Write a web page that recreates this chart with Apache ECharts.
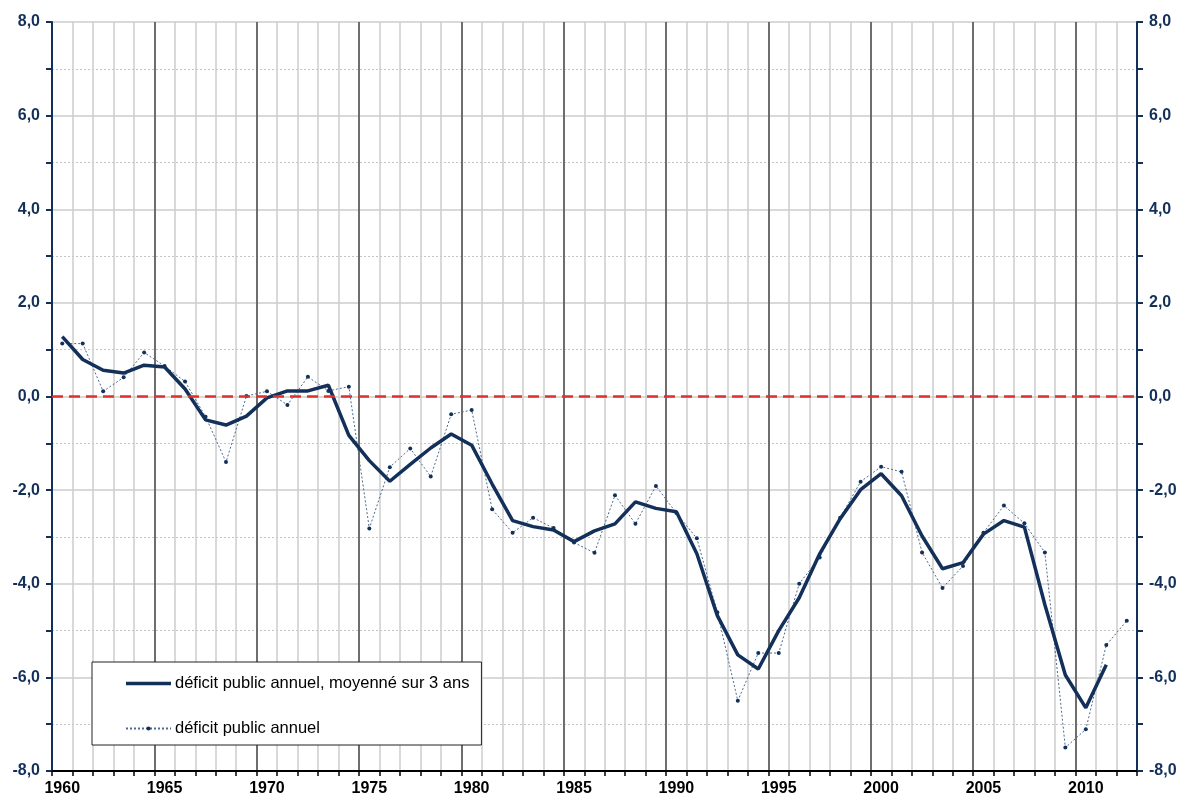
<!DOCTYPE html>
<html>
<head>
<meta charset="utf-8">
<script src="https://cdn.jsdelivr.net/npm/echarts@6/dist/echarts.min.js"></script>
<style>
html,body{margin:0;padding:0;background:#fff;}
#chart{width:1190px;height:803px;}
</style>
</head>
<body>
<div id="chart"></div>
<script>
// Years (categories)
var years = [];
for (var y = 1960; y <= 2012; y++) years.push(String(y));

// Annual public deficit (% of GDP), 1960..2012
var annualDeficit = [
  1.13, 1.13, 0.11, 0.41, 0.94, 0.65, 0.32, -0.43, -1.40, 0.01,
  0.11, -0.18, 0.42, 0.12, 0.21, -2.82, -1.51, -1.11, -1.71, -0.38,
  -0.29, -2.41, -2.91, -2.59, -2.81, -3.12, -3.34, -2.11, -2.72, -1.91,
  -2.49, -3.03, -4.61, -6.50, -5.48, -5.48, -4.00, -3.44, -2.59, -1.82,
  -1.50, -1.61, -3.33, -4.09, -3.62, -2.91, -2.33, -2.71, -3.33, -7.50,
  -7.11, -5.31, -4.79
];

// 3-year averaged deficit, 1960..2011 (none for 2012)
var averagedDeficit = [
  1.28, 0.79, 0.56, 0.50, 0.67, 0.63, 0.16, -0.50, -0.61, -0.42,
  -0.03, 0.12, 0.12, 0.24, -0.83, -1.37, -1.81, -1.45, -1.10, -0.80,
  -1.04, -1.87, -2.65, -2.78, -2.85, -3.10, -2.87, -2.72, -2.25, -2.39,
  -2.46, -3.36, -4.68, -5.52, -5.82, -5.00, -4.30, -3.36, -2.61, -1.99,
  -1.65, -2.12, -2.98, -3.68, -3.55, -2.94, -2.65, -2.79, -4.45, -5.95,
  -6.65, -5.73, null
];

var seriesNames = ['déficit public annuel, moyenné sur 3 ans', 'déficit public annuel'];

var navy = '#13305a';
var fontFam = '"Liberation Sans", Arial, sans-serif';

function fmt(v){ return v.toFixed(1).replace('.', ','); }

var yAxisCommon = {
  type: 'value', min: -8, max: 8, interval: 2,
  axisLine: { show: true, lineStyle: { color: navy, width: 2 } },
  axisTick: { show: true, length: 6, lineStyle: { color: navy, width: 2 } },
  minorTick: { show: true, splitNumber: 2, length: 6, lineStyle: { color: navy, width: 2 } },
  axisLabel: { formatter: fmt, color: navy, fontWeight: 'bold', fontSize: 16, fontFamily: fontFam, margin: 12 }
};

var chart = echarts.init(document.getElementById('chart'));
chart.setOption({
  animation: false,
  backgroundColor: '#fff',
  grid: { left: 52, right: 53, top: 22, bottom: 32, containLabel: false },
  legend: {
    data: [
      { name: seriesNames[0], icon: 'path://M0,0L45,0L45,3.5L0,3.5Z' },
      { name: seriesNames[1] }
    ],
    orient: 'vertical',
    left: 92, top: 662,
    backgroundColor: '#fff',
    borderColor: '#222', borderWidth: 1,
    padding: [13, 12, 8, 33],
    itemWidth: 45, itemHeight: 5, itemGap: 28,
    textStyle: { fontSize: 16.5, color: '#000', fontFamily: fontFam, padding: [0, 0, 0, -1] }
  },
  xAxis: [
    {
      type: 'category', data: years, boundaryGap: true,
      axisLine: { show: true, onZero: false, lineStyle: { color: '#000', width: 2 } },
      axisTick: { show: true, interval: 0, length: 5, lineStyle: { color: '#000', width: 1.5 } },
      axisLabel: { interval: 4, color: '#000', fontWeight: 'bold', fontSize: 16, fontFamily: fontFam, margin: 10 },
      splitLine: { show: true, interval: 0, lineStyle: { color: '#cccccc', width: 1.5 } }
    },
    {
      type: 'category', data: years, boundaryGap: true, position: 'bottom',
      axisLine: { show: false }, axisTick: { show: false }, axisLabel: { show: false },
      splitLine: { show: true, interval: 4, lineStyle: { color: '#4a4a4a', width: 1.5 } }
    }
  ],
  yAxis: [
    Object.assign({}, yAxisCommon, {
      position: 'left',
      splitLine: { show: true, lineStyle: { color: '#cccccc', width: 1.5 } },
      minorSplitLine: { show: true, lineStyle: { color: '#c4c4c4', width: 1, type: [2, 2] } }
    }),
    Object.assign({}, yAxisCommon, {
      position: 'right',
      splitLine: { show: false }
    })
  ],
  series: [
    {
      name: seriesNames[1], type: 'line', data: annualDeficit,
      xAxisIndex: 0, yAxisIndex: 0,
      symbol: 'circle', symbolSize: 4, showSymbol: true,
      itemStyle: { color: navy },
      lineStyle: { color: '#4b6a92', width: 1, type: [2, 2] },
      z: 3,
      markLine: {
        silent: true, symbol: 'none', label: { show: false },
        lineStyle: { color: '#e0302c', width: 2.5, type: [11, 6] },
        data: [{ yAxis: 0 }]
      }
    },
    {
      name: seriesNames[0], type: 'line', data: averagedDeficit,
      xAxisIndex: 0, yAxisIndex: 0,
      symbol: 'none', showSymbol: false,
      itemStyle: { color: navy },
      lineStyle: { color: navy, width: 3.5 },
      z: 4
    }
  ]
});
</script>
</body>
</html>
